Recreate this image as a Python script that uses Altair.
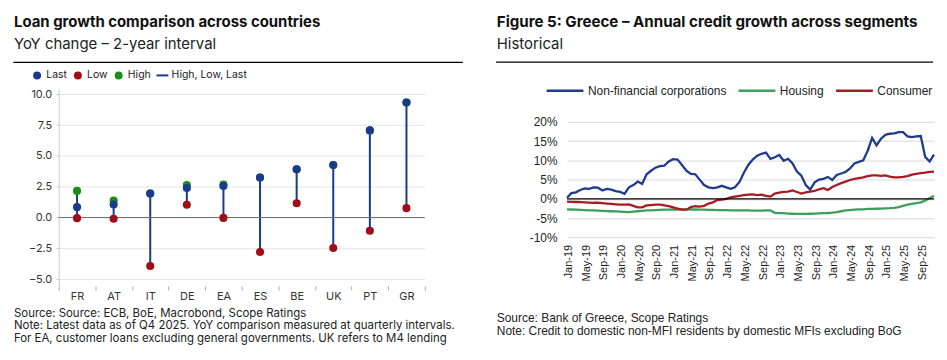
import altair as alt
import pandas as pd

# ---------------- Left panel data ----------------
countries = ["FR", "AT", "IT", "DE", "EA", "ES", "BE", "UK", "PT", "GR"]
last_vals = [0.84, 1.05, 1.94, 2.40, 2.56, 3.24, 3.91, 4.26, 7.07, 9.33]
low_vals = [-0.05, -0.10, -3.93, 1.03, -0.03, -2.80, 1.16, -2.47, -1.07, 0.76]
high_vals = [2.16, 1.38, 1.94, 2.64, 2.67, 3.24, 3.91, 4.26, 7.07, 9.33]
left_series = ["Last", "Low", "High", "High, Low, Last"]
left_colors = ["#1b3a8c", "#a00d16", "#14901a", "#1b3a8c"]
left_shapes = ["circle", "circle", "circle", "M-1.5,-0.25H1.5V0.25H-1.5Z"]
left_y_ticks = [-5, -2.5, 0, 2.5, 5, 7.5, 10]

left_title = ["Loan growth comparison across countries"]
left_subtitle = ["YoY change \u2013 2-year interval"]
left_notes = [
    "Source: Source: ECB, BoE, Macrobond, Scope Ratings",
    "Note: Latest data as of Q4 2025. YoY comparison measured at quarterly intervals.",
    "For EA, customer loans excluding general governments. UK refers to M4 lending",
]

# ---------------- Right panel data ----------------
month_labels = ["Jan-19", "May-19", "Sep-19", "Jan-20", "May-20", "Sep-20", "Jan-21",
                "May-21", "Sep-21", "Jan-22", "May-22", "Sep-22", "Jan-23", "May-23",
                "Sep-23", "Jan-24", "May-24", "Sep-24", "Jan-25", "May-25", "Sep-25"]
nfc = [0.3, 1.5, 1.7, 2.3, 2.7, 2.6, 3.0, 2.9, 2.2, 2.6,
       2.4, 2.0, 1.8, 1.3, 3.0, 3.6, 4.5, 3.9, 6.4, 7.3,
       8.1, 8.5, 8.6, 9.7, 10.3, 10.2, 8.8, 7.3, 6.5, 6.4,
       5.0, 3.6, 3.0, 2.8, 3.0, 3.4, 3.0, 2.6, 3.0, 4.4,
       6.8, 8.8, 10.2, 11.2, 11.7, 12.0, 10.4, 10.8, 11.4, 9.9,
       10.4, 9.2, 7.1, 6.0, 3.6, 2.4, 4.3, 5.0, 5.2, 5.7,
       4.9, 6.2, 6.6, 7.0, 7.9, 9.2, 9.6, 10.0, 12.5, 15.8,
       13.9, 15.6, 16.6, 16.9, 17.0, 17.3, 17.3, 16.2, 16.0, 16.2,
       16.3, 10.9, 9.7, 11.5]
housing = [-2.7, -2.75, -2.8, -2.85, -2.9, -2.95, -3.0, -3.05, -3.1, -3.15,
           -3.2, -3.25, -3.3, -3.35, -3.4, -3.3, -3.2, -3.1, -3.0, -2.95,
           -2.9, -2.85, -2.8, -2.8, -2.75, -2.75, -2.7, -2.7, -2.75, -2.75,
           -2.8, -2.8, -2.85, -2.85, -2.9, -2.9, -2.9, -2.95, -2.95, -3.0,
           -3.0, -3.0, -3.05, -3.05, -3.05, -3.0, -3.0, -3.6, -3.7, -3.7,
           -3.8, -3.85, -3.9, -3.9, -3.9, -3.85, -3.8, -3.75, -3.7, -3.65,
           -3.55, -3.4, -3.2, -3.0, -2.9, -2.8, -2.7, -2.7, -2.6, -2.6,
           -2.55, -2.5, -2.45, -2.4, -2.3, -2.1, -1.8, -1.5, -1.3, -1.1,
           -0.9, -0.4, 0.2, 0.8]
consumer = [-0.7, -0.75, -0.8, -0.85, -0.9, -0.95, -1.0, -1.0, -1.1, -1.2,
            -1.3, -1.4, -1.5, -1.5, -1.4, -1.8, -2.2, -2.2, -1.7, -1.6,
            -1.5, -1.5, -1.7, -1.9, -2.2, -2.5, -2.8, -2.8, -2.1, -1.9,
            -2.0, -1.8, -1.2, -0.9, -0.3, -0.2, 0.0, 0.4, 0.6, 0.8,
            1.0, 1.1, 1.2, 1.0, 1.1, 0.8, 0.6, 1.4, 1.6, 1.8,
            1.9, 2.2, 1.8, 1.4, 1.7, 1.9, 2.1, 2.5, 2.8, 2.3,
            3.1, 3.6, 4.1, 4.5, 4.9, 5.2, 5.4, 5.6, 5.9, 6.1,
            6.1, 6.0, 6.1, 5.8, 5.6, 5.6, 5.7, 5.9, 6.3, 6.5,
            6.7, 6.8, 7.0, 7.1]
right_series = ["Non-financial corporations", "Housing", "Consumer"]
right_colors = ["#1f3b8e", "#3f9d5e", "#a51d22"]
right_y_ticks = [-10, -5, 0, 5, 10, 15, 20]

right_title = ["Figure 5: Greece \u2013 Annual credit growth across segments"]
right_subtitle = ["Historical"]
right_notes = [
    "Source: Bank of Greece, Scope Ratings",
    "Note: Credit to domestic non-MFI residents by domestic MFIs excluding BoG",
]

# ---------------- Tables ----------------
rule_df = pd.DataFrame({"country": countries, "low": low_vals, "high": high_vals})
pts_rows = []
for s, vals, z in [("High", high_vals, 0), ("Low", low_vals, 1), ("Last", last_vals, 2)]:
    for c, v in zip(countries, vals):
        pts_rows.append({"country": c, "series": s, "value": v, "z": z})
pts_df = pd.DataFrame(pts_rows)

line_rows = []
for s, vals in zip(right_series, [nfc, housing, consumer]):
    for i, v in enumerate(vals):
        line_rows.append({"idx": i, "series": s, "value": v})
line_df = pd.DataFrame(line_rows)

blank = alt.Data(values=[{}])
TFONT = "Inter"
RFONT = "Liberation Sans"

# ---------------- Left panel ----------------
L_W, L_H = 368, 198
x_left = alt.X("country:N", sort=countries,
               scale=alt.Scale(type="band", paddingInner=0, paddingOuter=0),
               axis=alt.Axis(title=None, labelAngle=0, tickBand="extent", domain=False,
                             ticks=True, tickColor="#aaaaaa", tickSize=4, labelPadding=1,
                             labelFont=TFONT, labelFontSize=11, labelColor="#333333",
                             grid=False))
y_scale_left = alt.Scale(domain=[-5.55, 10.43], nice=False, zero=False)
y_axis_left = alt.Axis(title=None, values=left_y_ticks, format=".1f", grid=True,
                       gridColor="#e6e6e6", domain=True, domainColor="#cccccc",
                       ticks=True, tickColor="#cccccc", tickSize=3, labelPadding=4,
                       labelFont=TFONT, labelFontSize=11, labelColor="#333333")

stems = alt.Chart(rule_df).mark_rule(color="#1b3a8c", strokeWidth=2).encode(
    x=x_left,
    y=alt.Y("low:Q", scale=y_scale_left, axis=y_axis_left),
    y2="high:Q")

zero_left = alt.Chart(blank).mark_rule(color="#6f6f6f", strokeWidth=1).encode(
    y=alt.datum(0, scale=y_scale_left, axis=y_axis_left))

leg_left = alt.Legend(title=None, orient="none", legendX=-27, legendY=-19,
                      direction="horizontal", symbolSize=64, symbolStrokeWidth=0,
                      labelFont=TFONT, labelFontSize=10.5, labelColor="#222222",
                      labelOffset=4, columnPadding=5, padding=0)
points = alt.Chart(pts_df).mark_point(filled=True, size=66, opacity=1).encode(
    x=x_left,
    y=alt.Y("value:Q", scale=y_scale_left, axis=y_axis_left),
    color=alt.Color("series:N", scale=alt.Scale(domain=left_series, range=left_colors),
                    legend=leg_left),
    shape=alt.Shape("series:N", scale=alt.Scale(domain=left_series, range=left_shapes),
                    legend=leg_left),
    order=alt.Order("z:Q"))

l_title = alt.Chart(blank).mark_text(align="left", baseline="alphabetic", font=TFONT,
                                     fontSize=15, fontWeight="bold", color="#111111").encode(
    x=alt.value(-45), y=alt.value(-62), text=alt.value(left_title[0]))
l_sub = alt.Chart(blank).mark_text(align="left", baseline="alphabetic", font=TFONT,
                                   fontSize=15, color="#222222").encode(
    x=alt.value(-45), y=alt.value(-40), text=alt.value(left_subtitle[0]))
l_line = alt.Chart(blank).mark_rule(color="#000000", strokeWidth=1.2).encode(
    x=alt.value(-45.7), x2=alt.value(406.3), y=alt.value(-26.7))
l_notes = alt.Chart(blank).mark_text(align="left", baseline="alphabetic", font=TFONT,
                                     fontSize=11.5, color="#222222", lineHeight=12.5).encode(
    x=alt.value(-45), y=alt.value(229), text=alt.value(left_notes))

left = alt.layer(stems, zero_left, points, l_title, l_sub, l_line, l_notes).properties(
    width=L_W, height=L_H)

# ---------------- Right panel ----------------
# plot top aligned with the left panel; the y range above 20% stays empty
R_W, R_H = 369, 149.3
label_expr = "[" + ",".join("'%s'" % m for m in month_labels) + "][round(datum.value/4)]"
x_right = alt.X("idx:Q", scale=alt.Scale(domain=[0, len(nfc) - 1], nice=False, zero=False),
                axis=alt.Axis(title=None, values=[4 * i for i in range(len(month_labels))],
                              labelExpr=label_expr, labelAngle=270, grid=False, domain=False,
                              ticks=False, labelPadding=7, labelFont=RFONT,
                              labelFontSize=11, labelColor="#222222", labelOffset=1.5))
y_scale_right = alt.Scale(domain=[-10, 28.51], nice=False, zero=False)
y_axis_right = alt.Axis(title=None, values=right_y_ticks, labelExpr="datum.value + '%'",
                        grid=True, gridColor="#d9d9d9", domain=False, ticks=False,
                        labelPadding=10, labelFont=RFONT, labelFontSize=12,
                        labelColor="#222222")

leg_right = alt.Legend(title=None, orient="none", legendX=-22, legendY=-18.2,
                       direction="horizontal", symbolType="stroke", symbolSize=1369,
                       symbolStrokeWidth=2.5, labelFont=RFONT, labelFontSize=12,
                       labelColor="#222222", labelOffset=3, columnPadding=6, padding=0)
lines = alt.Chart(line_df).mark_line(strokeWidth=2.3).encode(
    x=x_right,
    y=alt.Y("value:Q", scale=y_scale_right, axis=y_axis_right),
    color=alt.Color("series:N", scale=alt.Scale(domain=right_series, range=right_colors),
                    legend=leg_right, sort=right_series))

zero_right = alt.Chart(blank).mark_rule(color="#000000", strokeWidth=1.3).encode(
    y=alt.datum(0, scale=y_scale_right, axis=y_axis_right))

r_title = alt.Chart(blank).mark_text(align="left", baseline="alphabetic", font=TFONT,
                                     fontSize=15.2, fontWeight="bold", color="#111111").encode(
    x=alt.value(-70.6), y=alt.value(-62), text=alt.value(right_title[0]))
r_sub = alt.Chart(blank).mark_text(align="left", baseline="alphabetic", font=TFONT,
                                   fontSize=15, color="#222222").encode(
    x=alt.value(-70.6), y=alt.value(-40), text=alt.value(right_subtitle[0]))
r_line = alt.Chart(blank).mark_rule(color="#000000", strokeWidth=1.2).encode(
    x=alt.value(-71.3), x2=alt.value(368), y=alt.value(-27))
r_notes = alt.Chart(blank).mark_text(align="left", baseline="alphabetic", font=RFONT,
                                     fontSize=12, color="#222222", lineHeight=13.5).encode(
    x=alt.value(-70.6), y=alt.value(234), text=alt.value(right_notes))

right = alt.layer(lines, zero_right, r_title, r_sub, r_line, r_notes).properties(
    width=R_W, height=R_H)

chart = alt.hconcat(left, right, spacing=32).resolve_scale(
    color="independent", shape="independent"
).properties(
    padding={"left": 4, "top": 6.5, "right": 0, "bottom": 0}
).configure_view(stroke=None)

chart.save("out.html", embed_options={"renderer": "svg", "actions": False})
